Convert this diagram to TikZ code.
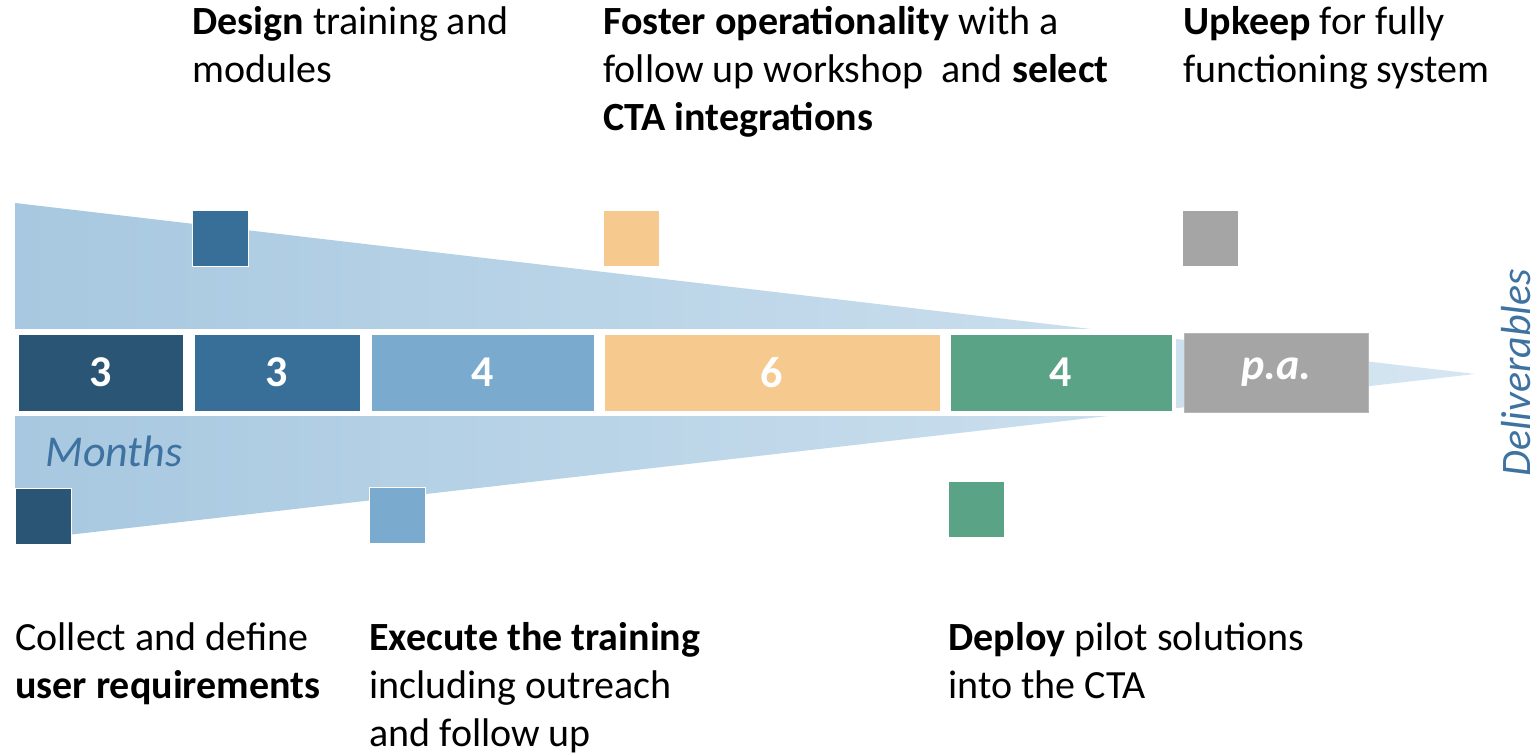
\documentclass[tikz,border=0pt]{standalone}
\usepackage{fontspec}
\setmainfont{Carlito}
\definecolor{mdark}{HTML}{2A5574}
\definecolor{mmid}{HTML}{386F98}
\definecolor{mlight}{HTML}{7AABCF}
\definecolor{morange}{HTML}{F6CA8E}
\definecolor{mgreen}{HTML}{5BA386}
\definecolor{mgray}{HTML}{A5A5A5}
\definecolor{funnelL}{HTML}{A7C8E0}
\definecolor{funnelR}{HTML}{D6E6F2}
\definecolor{labelblue}{HTML}{3E72A0}

\begin{document}
\begin{tikzpicture}[x=0.5pt,y=-0.5pt,
    phase/.style={draw=white,line width=1.5pt,minimum height=39.5pt,inner sep=0pt,
        text=white,font=\fontsize{22}{26}\selectfont\bfseries},
    sq/.style={anchor=north west,minimum size=28pt,inner sep=0pt,draw=white,line width=0.3pt},
    task/.style={anchor=base west,align=left,inner sep=0pt,font=\fontsize{20}{24}\selectfont}]
    \useasboundingbox[fill=white] (0,0) rectangle (1540,754);
    % funnel behind the phases
    \shade[left color=funnelL,right color=funnelR] (15,203) -- (1475,374) -- (15,541) -- cycle;
    \fill[white] (13,329) rectangle (1176,416);
    % phases (months)
    \node[phase,fill=mdark,minimum width=83.5pt] (p1) at (100.5,372.5) {3};
    \node[phase,fill=mmid,minimum width=84pt] (p2) at (277,372.5) {3};
    \node[phase,fill=mlight,minimum width=112.5pt] (p3) at (482.5,372.5) {4};
    \node[phase,fill=morange,minimum width=169pt] (p4) at (772,372.5) {6};
    \node[phase,fill=mgreen,minimum width=112pt] (p5) at (1061,372.5) {4};
    \node[phase,fill=mgray,draw=mgray!80!white,line width=0.5pt,minimum width=92pt] (p6) at (1276,372.5) {\textit{p.a.}};
    \node[anchor=base west,inner sep=0pt,text=labelblue,font=\fontsize{22}{26}\selectfont\itshape] (months) at (45,466) {Months};
    \node[rotate=90,anchor=base,inner sep=0pt,text=labelblue,font=\fontsize{21}{25}\selectfont\itshape] (deliv) at (1530,373) {Deliverables};
    % deliverable markers
    \node[sq,fill=mdark] (s1) at (15,488) {};
    \node[sq,fill=mmid] (s2) at (192,210) {};
    \node[sq,fill=mlight] (s3) at (369,487) {};
    \node[sq,fill=morange] (s4) at (603,210) {};
    \node[sq,fill=mgreen] (s5) at (948,481) {};
    \node[sq,fill=mgray] (s6) at (1182,210) {};
    % texts (placed by the baseline of their last line)
    \node[task] (design) at (192,83) {\textbf{Design} training and\\modules};
    \node[task] (foster) at (603,131) {\textbf{Foster operationality} with a\\follow up workshop\ \ and \textbf{select}\\\textbf{CTA integrations}};
    \node[task] (upkeep) at (1183,83) {\textbf{Upkeep} for fully\\functioning system};
    \node[task] (collect) at (15,698) {Collect and define\\\textbf{user requirements}};
    \node[task] (execute) at (369,746) {\textbf{Execute the training}\\including outreach\\and follow up};
    \node[task] (deploy) at (948,698) {\textbf{Deploy} pilot solutions\\into the CTA};
\end{tikzpicture}
\end{document}
